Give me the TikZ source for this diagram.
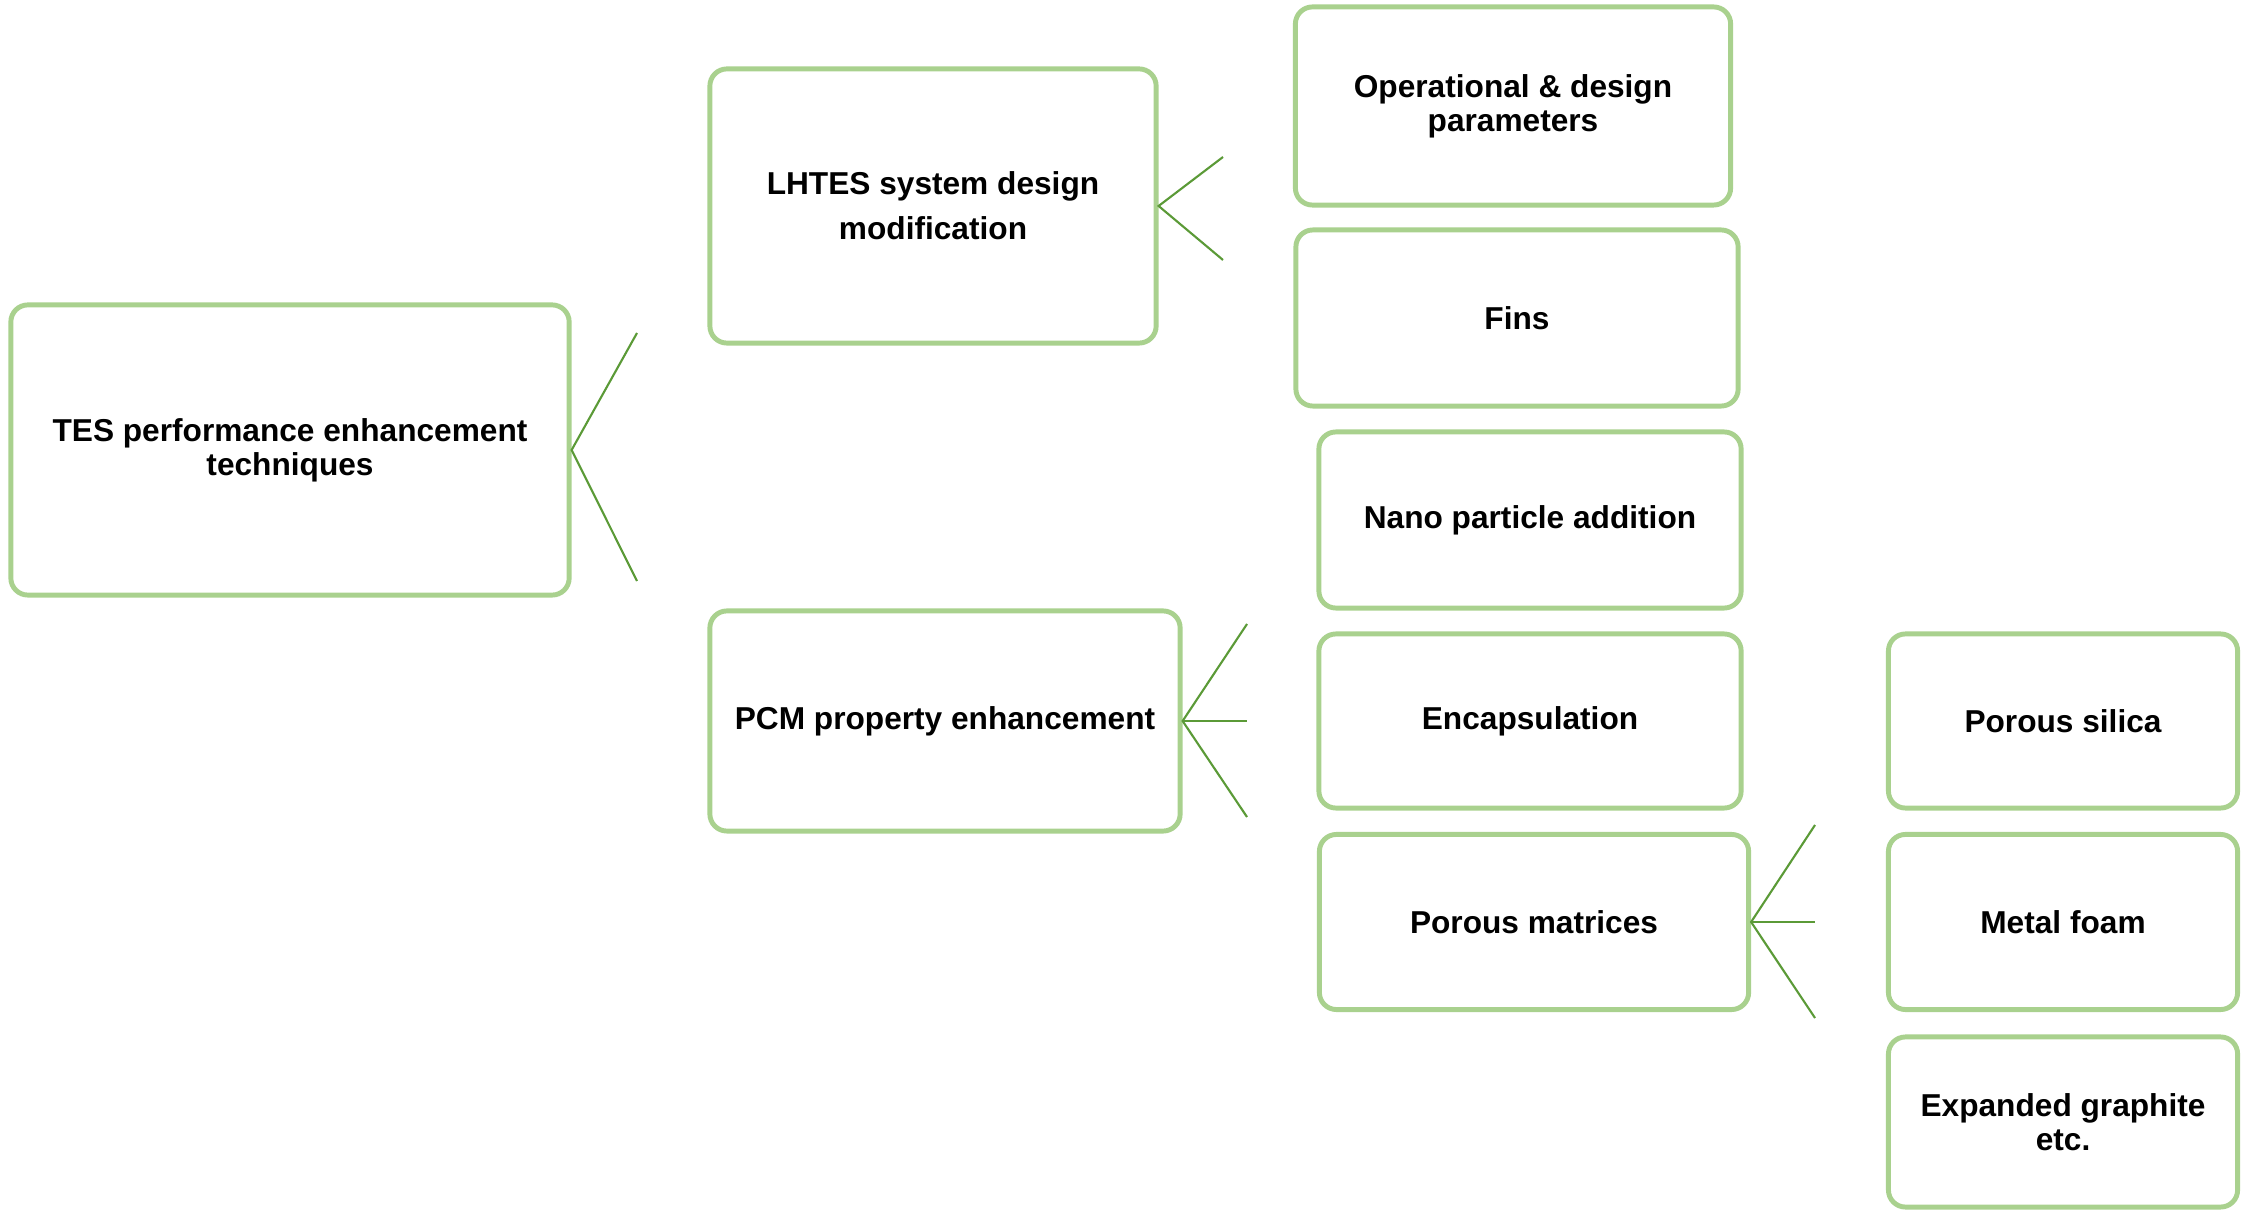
\documentclass[tikz,border=0pt]{standalone}
\usepackage{fontspec}
\setmainfont{Liberation Sans}
\usetikzlibrary{positioning}
\definecolor{boxgreen}{HTML}{A9D18E}
\definecolor{forkgreen}{HTML}{5B9A37}
\tikzset {
technique/.style={shape=rectangle,draw=boxgreen,line width=1.4pt,rounded corners=0.17cm,align=center,inner sep=0pt,font=\fontsize{9}{9.7}\selectfont\bfseries},
fork/.style={draw=forkgreen,line width=0.6pt}
}

\begin{document}
\begin{tikzpicture}
[x=0.01cm,y=-0.01cm]
\useasboundingbox (0,0) rectangle (2243,1210);
\node[technique,minimum width=5.58cm,minimum height=2.90cm] (tes) at (290,450) {TES performance enhancement\\techniques};
\node[technique,minimum width=4.46cm,minimum height=2.74cm] (lhtes) at (933,206) {LHTES system design\\[3.1pt]modification};
\node[technique,minimum width=4.70cm,minimum height=2.20cm] (pcm) at (945,721) {PCM property enhancement};
\node[technique,minimum width=4.35cm,minimum height=1.98cm] (operational) at (1513,106) {Operational \& design\\parameters};
\node[technique,minimum width=4.42cm,minimum height=1.76cm] (fins) at (1517,318) {Fins};
\node[technique,minimum width=4.22cm,minimum height=1.76cm] (nano) at (1530,520) {Nano particle addition};
\node[technique,minimum width=4.22cm,minimum height=1.74cm] (encapsulation) at (1530,721) {Encapsulation};
\node[technique,minimum width=4.29cm,minimum height=1.75cm] (porous matrices) at (1534,922) {Porous matrices};
\node[technique,minimum width=3.49cm,minimum height=1.74cm] (silica) at (2063,721) {Porous silica};
\node[technique,minimum width=3.49cm,minimum height=1.75cm] (metal foam) at (2063,922) {Metal foam};
\node[technique,minimum width=3.49cm,minimum height=1.70cm] (graphite) at (2063,1122) {Expanded graphite\\etc.};

% forks
\coordinate (tes top) at (637,333);
\coordinate (tes bottom) at (637,581);
\coordinate (lhtes top) at (1223,157);
\coordinate (lhtes bottom) at (1223,260);
\coordinate (pcm top) at (1247,624);
\coordinate (pcm mid) at (1247,721);
\coordinate (pcm bottom) at (1247,817);
\coordinate (matrices top) at (1815,825);
\coordinate (matrices mid) at (1815,922);
\coordinate (matrices bottom) at (1815,1018);

\draw[fork] (tes top) -- (tes.east) -- (tes bottom);
\draw[fork] (lhtes top) -- (lhtes.east) -- (lhtes bottom);
\draw[fork] (pcm top) -- (pcm.east) -- (pcm bottom);
\draw[fork] (pcm.east) -- (pcm mid);
\draw[fork] (matrices top) -- (porous matrices.east) -- (matrices bottom);
\draw[fork] (porous matrices.east) -- (matrices mid);
\end{tikzpicture}
\end{document}
